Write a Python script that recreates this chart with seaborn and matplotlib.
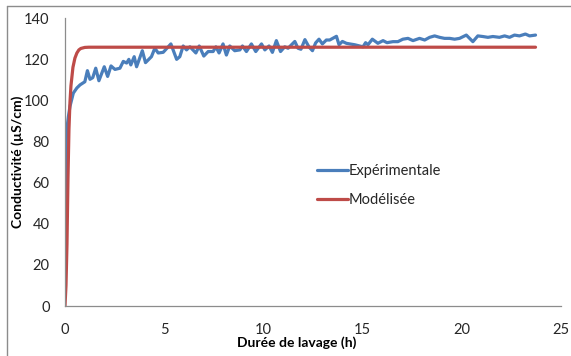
import numpy as np
import pandas as pd
import matplotlib
matplotlib.use("Agg")
import matplotlib.pyplot as plt
from matplotlib.lines import Line2D
import seaborn as sns

# ---- data ----
exp_t = [0.0, 0.03, 0.08, 0.17, 0.25, 0.42, 0.6, 0.76, 1.0, 1.13, 1.26, 1.4, 1.55,
         1.71, 1.98, 2.15, 2.32, 2.52, 2.77, 2.94, 3.11, 3.22, 3.32, 3.49, 3.61,
         3.9, 4.06, 4.36, 4.53, 4.7, 4.95, 5.34, 5.63, 5.79, 5.96, 6.13, 6.3,
         6.6, 6.77, 7.0, 7.22, 7.47, 7.61, 7.77, 7.97, 8.14, 8.31, 8.56, 8.82,
         8.95, 9.15, 9.4, 9.62, 9.91, 10.08, 10.29, 10.46, 10.66, 10.87, 11.08,
         11.25, 11.59, 11.75, 11.9, 12.1, 12.3, 12.48, 12.64, 12.81, 12.98,
         13.18, 13.35, 13.69, 13.82, 13.99, 14.19, 14.36, 14.61, 14.86, 15.03,
         15.16, 15.28, 15.5, 15.78, 16.04, 16.24, 16.54, 16.79, 17.04, 17.3,
         17.55, 17.88, 18.14, 18.39, 18.64, 18.89, 19.14, 19.4, 19.65, 19.9,
         20.24, 20.57, 20.82, 21.07, 21.33, 21.58, 21.91, 22.17, 22.42, 22.67,
         22.92, 23.22, 23.43, 23.73]
exp_v = [38, 70, 85, 92, 97, 103.5, 106, 107.5, 109, 114.4, 110.2, 111, 115.6,
         109.5, 116.3, 111.6, 116.7, 115, 115.6, 118.9, 118.1, 119.9, 117.2, 121.2, 116.3,
         124.1, 118.3, 121.2, 125.3, 123, 123.3, 127.4, 119.9, 121.2, 126.4, 124.5, 126,
         123, 126.4, 121.5, 123.7, 123.7, 126, 123, 127.4, 122, 126.4, 124.1, 124.5,
         126.4, 123.7, 127.4, 123.7, 127.4, 124.5, 126.4, 123.3, 129, 123.7, 126,
         125.3, 128.6, 125.3, 124.8, 129.5, 126, 124.1, 127.9, 129.7, 127.4,
         129.3, 129.3, 131.1, 127, 128.6, 127.7, 127.4, 127, 126.4, 126,
         128, 127, 129.7, 127.7, 129, 128, 128.5, 128.5, 129.7, 130.1,
         129, 130.1, 129.3, 130.6, 131.3, 130.6, 130.1, 130.1, 129.7, 130.1,
         131.7, 128.5, 131.3, 131, 130.6, 131, 130.6, 131.3, 130.6, 131.7,
         131.3, 132.2, 131.3, 131.7]

mod_t = [0, 0.05, 0.1, 0.15, 0.2, 0.25, 0.3, 0.4, 0.5, 0.6, 0.7, 0.8, 1.0, 1.2, 1.5, 2.0, 23.73]
mod_v = [0, 10, 30, 62, 86, 99, 107, 116, 120.5, 123, 124.5, 125.2, 125.7, 125.8, 125.8, 125.8, 125.8]

x_ticks = [0, 5, 10, 15, 20, 25]
y_ticks = [0, 20, 40, 60, 80, 100, 120, 140]

labels = ["Expérimentale", "Modélisée"]
colors = ["#4A7EBB", "#BE4B48"]

df_exp = pd.DataFrame({"t": exp_t, "v": exp_v})
df_mod = pd.DataFrame({"t": mod_t, "v": mod_v})

sns.set_style("white")
plt.rcParams["font.family"] = ["Lato", "DejaVu Sans"]

W, H = 571, 356
fig = plt.figure(figsize=(W / 100, H / 100), dpi=100)
ax = fig.add_axes([65 / W, (H - 306) / H, (560.7 - 65) / W, (306 - 18) / H])

sns.lineplot(data=df_exp, x="t", y="v", ax=ax, color=colors[0], linewidth=2.3,
             sort=False, estimator=None, label=labels[0],
             solid_joinstyle="round", solid_capstyle="round")
sns.lineplot(data=df_mod, x="t", y="v", ax=ax, color=colors[1], linewidth=2.3,
             sort=False, estimator=None, label=labels[1],
             solid_joinstyle="round", solid_capstyle="round")

ax.set_xlim(0, 25)
ax.set_ylim(0, 140)
ax.set_xticks(x_ticks)
ax.set_yticks(y_ticks)
ax.set_xticklabels([str(v) for v in x_ticks])
ax.set_yticklabels([str(v) for v in y_ticks])

for s in ["top", "right"]:
    ax.spines[s].set_visible(False)
for s in ["left", "bottom"]:
    ax.spines[s].set_color("#8c8c8c")
    ax.spines[s].set_linewidth(0.9)

ax.tick_params(axis="both", which="major", direction="out", length=4, width=0.9,
               color="#8c8c8c", labelsize=10.5, labelcolor="#262626")
ax.tick_params(axis="y", pad=7)
ax.tick_params(axis="x", pad=8)
ax.grid(False)

ax.set_xlabel("Durée de lavage (h)", fontsize=10, fontweight="bold", color="black")
ax.set_ylabel("Conductivité (µS/cm)", fontsize=10, fontweight="bold", color="black")
ax.xaxis.label.set_va("center")
ax.xaxis.set_label_coords((297 - 65) / 495.7, -(343 - 306) / 288)
ax.yaxis.label.set_va("center")
ax.yaxis.label.set_ha("center")
ax.yaxis.set_label_coords((18 - 65) / 495.7, 0.5)

leg = ax.legend(loc="center left", bbox_to_anchor=(317 / W, 1 - 185.5 / H),
                bbox_transform=fig.transFigure, frameon=False, fontsize=10.5,
                handlelength=2.1, handletextpad=0.1, labelspacing=1.0,
                borderpad=0, borderaxespad=0)
for t in leg.get_texts():
    t.set_color("#262626")
for l in leg.get_lines():
    l.set_linewidth(2.3)

# outer chart-area border (left and top visible in the reference)
fig.add_artist(Line2D([7 / W, 1], [1 - 6 / H, 1 - 6 / H], transform=fig.transFigure,
                      color="#8c8c8c", linewidth=1.0))
fig.add_artist(Line2D([7 / W, 7 / W], [0, 1 - 6 / H], transform=fig.transFigure,
                      color="#8c8c8c", linewidth=1.0))

fig.savefig("out.png", dpi=100)
